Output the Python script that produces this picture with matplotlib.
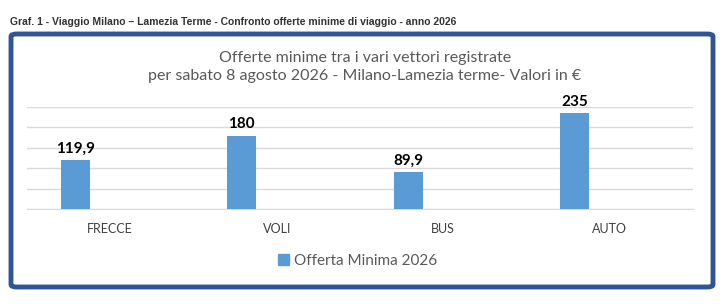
import matplotlib
matplotlib.use("Agg")
import matplotlib.pyplot as plt
from matplotlib.patches import FancyBboxPatch, Rectangle
import numpy as np

## data
categories = ["FRECCE", "VOLI", "BUS", "AUTO"]
values = [119.9, 180, 89.9, 235]
value_labels = ["119,9", "180", "89,9", "235"]
series_name = "Offerta Minima 2026"

caption = "Graf. 1 - Viaggio Milano \u2013 Lamezia Terme - Confronto offerte minime di viaggio - anno 2026"
title = "Offerte minime tra i vari vettori registrate\nper sabato 8 agosto 2026 - Milano-Lamezia terme- Valori in \u20ac"

bar_color = "#5B9BD5"
gray = "#595959"

fig = plt.figure(figsize=(7.25, 3.08), dpi=100)
fig.patch.set_facecolor("white")

# caption above the frame
fig.text(10 / 725, 1 - 22 / 308, caption, fontsize=7.5, fontweight="bold",
         family="Liberation Sans", color="#333333", va="center", ha="left")

# dark blue rounded frame
frame = FancyBboxPatch((11 / 725, 1 - 287 / 308), 702 / 725, 253 / 308,
                       boxstyle="round,pad=0,rounding_size=0.008",
                       transform=fig.transFigure, facecolor="white",
                       edgecolor="#2F5597", linewidth=3.5, zorder=-5)
fig.patches.append(frame)

# chart title
fig.text(0.503, 1 - 67 / 308, title, fontsize=11.5, family="Lato", color=gray,
         ha="center", va="center", linespacing=1.35)

ax = fig.add_axes([27 / 725, 99 / 308, 666 / 725, 102 / 308])
ax.set_facecolor("none")
x = np.arange(len(categories))
ax.bar(x - 0.21, values, width=0.175, color=bar_color, zorder=3)
for xi, v, lab in zip(x, values, value_labels):
    ax.text(xi - 0.21, v + 10, lab, ha="center", va="bottom", fontsize=11,
            fontweight="bold", family="Lato", color="black")

ax.set_xlim(-0.5, len(categories) - 0.5)
ax.set_ylim(0, 250)
ax.set_yticks(np.arange(0, 251, 50))
ax.yaxis.grid(True, color="#D9D9D9", linewidth=1, zorder=0)
ax.tick_params(axis="y", left=False, labelleft=False)
ax.set_xticks(x)
ax.set_xticklabels(categories, fontsize=9, family="Lato", color="#404040")
ax.tick_params(axis="x", length=0, pad=10)
for s in ["top", "right", "left"]:
    ax.spines[s].set_visible(False)
ax.spines["bottom"].set_color("#D9D9D9")

# legend
handle = Rectangle((0, 0), 1, 1, color=bar_color)
fig.legend([handle], [series_name], loc="center", bbox_to_anchor=(0.493, 1 - 261 / 308),
           frameon=False, handlelength=0.7, handleheight=0.7, handletextpad=0.3,
           prop={"family": "Lato", "size": 11}, labelcolor=gray)

fig.savefig("out.png", dpi=100)
